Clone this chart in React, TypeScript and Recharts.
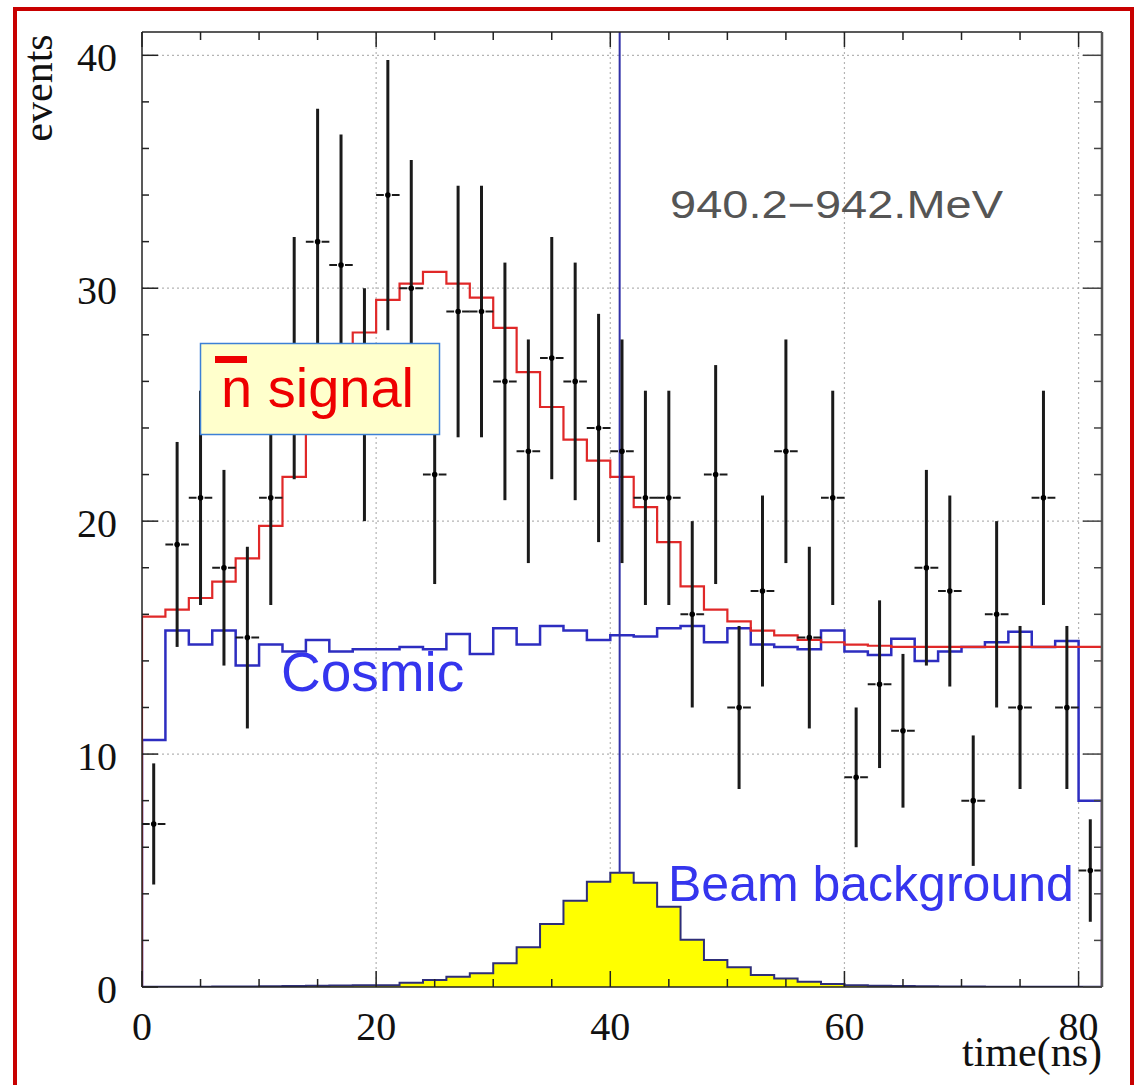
import React from 'react';
import {
  ComposedChart,
  Line,
  Area,
  Scatter,
  ErrorBar,
  XAxis,
  YAxis,
  CartesianGrid,
  ReferenceLine,
} from 'recharts';

// 2 ns bins from 0 to 82 ns
const binEdges = [
  0, 2, 4, 6, 8, 10, 12, 14, 16, 18, 20, 22, 24, 26, 28, 30, 32, 34, 36, 38, 40,
  42, 44, 46, 48, 50, 52, 54, 56, 58, 60, 62, 64, 66, 68, 70, 72, 74, 76, 78, 80,
];
const binCenters = [
  1, 3, 5, 7, 9, 11, 13, 15, 17, 19, 21, 23, 25, 27, 29, 31, 33, 35, 37, 39, 41,
  43, 45, 47, 49, 51, 53, 55, 57, 59, 61, 63, 65, 67, 69, 71, 73, 75, 77, 79, 81,
];

// measured events per bin and their errors
const measured = [
  7, 19, 21, 18, 15, 21, 27, 32, 31, 25, 34, 30, 22, 29, 29, 26, 23, 27, 26, 24, 23,
  21, 21, 16, 22, 12, 17, 23, 15, 21, 9, 13, 11, 18, 17, 8, 16, 12, 21, 12, 5,
];
const measuredErr = [
  2.6, 4.4, 4.6, 4.2, 3.9, 4.6, 5.2, 5.7, 5.6, 5.0, 5.8, 5.5, 4.7, 5.4, 5.4, 5.1, 4.8,
  5.2, 5.1, 4.9, 4.8, 4.6, 4.6, 4.0, 4.7, 3.5, 4.1, 4.8, 3.9, 4.6, 3.0, 3.6, 3.3, 4.2,
  4.1, 2.8, 4.0, 3.5, 4.6, 3.5, 2.2,
];

// fitted histograms
const totalFit = [
  15.9, 16.2, 16.7, 17.4, 18.4, 19.8, 21.9, 24.3, 26.4, 28.1, 29.5, 30.2, 30.7, 30.2,
  29.6, 28.3, 26.4, 24.9, 23.5, 22.6, 21.9, 20.6, 19.1, 17.2, 16.2, 15.7, 15.3, 15.1,
  14.9, 14.8, 14.7, 14.65, 14.6, 14.6, 14.6, 14.6, 14.6, 14.6, 14.6, 14.6, 14.6,
];
const cosmicFit = [
  10.6, 15.3, 14.7, 15.3, 13.8, 14.7, 14.4, 14.9, 14.4, 14.5, 14.5, 14.6, 14.5, 15.15,
  14.3, 15.4, 14.7, 15.5, 15.3, 14.9, 15.1, 15.05, 15.4, 15.5, 14.8, 15.4, 14.7, 14.6,
  14.5, 15.3, 14.4, 14.25, 14.95, 14.0, 14.4, 14.6, 14.8, 15.25, 14.6, 14.85, 8.0,
];
const beamFit = [
  0.01, 0.01, 0.01, 0.02, 0.02, 0.03, 0.04, 0.05, 0.06, 0.08, 0.08, 0.18, 0.3, 0.44,
  0.59, 1.02, 1.71, 2.7, 3.7, 4.52, 4.9, 4.48, 3.45, 2.03, 1.16, 0.85, 0.52, 0.37, 0.23,
  0.13, 0.08, 0.05, 0.04, 0.03, 0.02, 0.02, 0.01, 0.01, 0.01, 0.01, 0.01,
];

const xTicks = [0, 5, 10, 15, 20, 25, 30, 35, 40, 45, 50, 55, 60, 65, 70, 75, 80];
const xLabels = [0, 20, 40, 60, 80];
const yTicks = [0, 2, 4, 6, 8, 10, 12, 14, 16, 18, 20, 22, 24, 26, 28, 30, 32, 34, 36, 38, 40];
const yLabels = [0, 10, 20, 30, 40];
const xGrid = [20, 40, 60, 80];
const yGrid = [10, 20, 30, 40];

const X_MAX = 82;
const Y_MAX = 41;
const BIN_HALF = 1;
const beamMarkerX = 40.8;

const SERIF = '"Liberation Serif", "Times New Roman", serif';
const SANS = '"Liberation Sans", Arial, sans-serif';
const TICK = '#222';

const last = binEdges.length - 1;
const histRows = [
  { x: 0, total: 0, cosmic: 0, beam: 0 },
  ...binEdges.map((x, i) => ({ x, total: totalFit[i], cosmic: cosmicFit[i], beam: beamFit[i] })),
  { x: X_MAX, total: totalFit[last], cosmic: cosmicFit[last], beam: beamFit[last] },
  { x: X_MAX, total: 0, cosmic: 0, beam: 0 },
];

const points = binCenters.map((x, i) => ({
  x,
  y: measured[i],
  ey: measuredErr[i],
  ex: BIN_HALF,
}));

function BottomTick(props: any) {
  const { x, y, payload } = props;
  const major = xLabels.includes(payload.value);
  return (
    <g>
      <line x1={x} x2={x} y1={y} y2={y - (major ? 16 : 8)} stroke={TICK} strokeWidth={1.5} />
      {major && (
        <text x={x} y={y + 53} textAnchor="middle" fontFamily={SERIF} fontSize={40} fill="#111">
          {payload.value}
        </text>
      )}
    </g>
  );
}

function TopTick(props: any) {
  const { x, y, payload } = props;
  const major = xLabels.includes(payload.value);
  return <line x1={x} x2={x} y1={y} y2={y + (major ? 15 : 8)} stroke={TICK} strokeWidth={1.5} />;
}

function LeftTick(props: any) {
  const { x, y, payload } = props;
  const major = yLabels.includes(payload.value);
  return (
    <g>
      <line x1={x} x2={x + (major ? 16 : 7)} y1={y} y2={y} stroke={TICK} strokeWidth={1.5} />
      {major && (
        <text x={x - 25} y={y + 15.5} textAnchor="end" fontFamily={SERIF} fontSize={40} fill="#111">
          {payload.value}
        </text>
      )}
    </g>
  );
}

function RightTick(props: any) {
  const { x, y, payload } = props;
  const major = yLabels.includes(payload.value);
  return <line x1={x} x2={x - (major ? 19 : 8)} y1={y} y2={y} stroke="#444" strokeWidth={1.5} />;
}

const Dot = (p: any) => <circle cx={p.cx} cy={p.cy} r={2.8} fill="#000" />;

export default function App() {
  return (
    <div style={{ position: 'absolute', left: 0, top: 0, width: 1137, height: 1085, background: '#fff', overflow: 'hidden' }}>
      <ComposedChart
        width={1137}
        height={1085}
        data={histRows}
        margin={{ top: 31, right: 34, bottom: 0, left: 0 }}
      >
        <CartesianGrid
          horizontalValues={yGrid}
          verticalValues={xGrid}
          stroke="#b4b4b4"
          strokeDasharray="2 3"
          strokeWidth={1.2}
        />
        <XAxis
          dataKey="x"
          type="number"
          domain={[0, X_MAX]}
          allowDataOverflow
          ticks={xTicks}
          interval={0}
          tickSize={0}
          tickMargin={0}
          tickLine={false}
          tick={(p: any) => <BottomTick {...p} />}
          height={98}
          axisLine={{ stroke: TICK, strokeWidth: 1.5 }}
        />
        <XAxis
          xAxisId="top"
          orientation="top"
          dataKey="x"
          type="number"
          domain={[0, X_MAX]}
          allowDataOverflow
          ticks={xTicks}
          interval={0}
          tickSize={0}
          tickMargin={0}
          tickLine={false}
          tick={(p: any) => <TopTick {...p} />}
          height={1}
          axisLine={{ stroke: TICK, strokeWidth: 1.5 }}
        />
        <YAxis
          type="number"
          domain={[0, Y_MAX]}
          allowDataOverflow
          ticks={yTicks}
          interval={0}
          tickSize={0}
          tickMargin={0}
          tickLine={false}
          tick={(p: any) => <LeftTick {...p} />}
          width={142}
          axisLine={{ stroke: TICK, strokeWidth: 1.5 }}
        />
        <YAxis
          yAxisId="right"
          orientation="right"
          type="number"
          domain={[0, Y_MAX]}
          allowDataOverflow
          ticks={yTicks}
          interval={0}
          tickSize={0}
          tickMargin={0}
          tickLine={false}
          tick={(p: any) => <RightTick {...p} />}
          width={1}
          axisLine={{ stroke: '#555', strokeWidth: 2.5 }}
        />
        <Area
          type="stepAfter"
          dataKey="beam"
          fill="#ffff00"
          fillOpacity={1}
          stroke="#2e2e78"
          strokeWidth={2}
          dot={false}
          activeDot={false}
          isAnimationActive={false}
        />
        <Line
          type="stepAfter"
          dataKey="cosmic"
          stroke="#2d2dc0"
          strokeWidth={2.5}
          dot={false}
          activeDot={false}
          isAnimationActive={false}
        />
        <Line
          type="stepAfter"
          dataKey="total"
          stroke="#e02828"
          strokeWidth={2.2}
          dot={false}
          activeDot={false}
          isAnimationActive={false}
        />
        <ReferenceLine
          segment={[
            { x: beamMarkerX, y: beamFit[20] },
            { x: beamMarkerX, y: Y_MAX },
          ]}
          stroke="#3030a8"
          strokeWidth={2}
        />
        <Scatter data={points} dataKey="y" shape={Dot} isAnimationActive={false}>
          <ErrorBar dataKey="ey" direction="y" width={0} stroke="#1a1a1a" strokeWidth={3} isAnimationActive={false} />
          <ErrorBar
            dataKey="ex"
            direction="x"
            width={0}
            stroke="#1a1a1a"
            strokeWidth={2}
            strokeDasharray="7.7 8"
            isAnimationActive={false}
          />
        </Scatter>
      </ComposedChart>

      <svg
        width={1137}
        height={1085}
        style={{ position: 'absolute', left: 0, top: 0, pointerEvents: 'none' }}
      >
        <rect x={15} y={9} width={1117} height={1100} fill="none" stroke="#c80000" strokeWidth={4} />

        <text
          transform="translate(52,88) rotate(-90)"
          textAnchor="middle"
          fontFamily={SERIF}
          fontSize={42}
          fill="#111"
        >
          events
        </text>
        <text x={1102} y={1066} textAnchor="end" fontFamily={SERIF} fontSize={42} fill="#111">
          time(ns)
        </text>

        <text
          x={670}
          y={218}
          fontFamily={SANS}
          fontSize={39}
          fill="#555"
          textLength={333}
          lengthAdjust="spacingAndGlyphs"
        >
          940.2−942.MeV
        </text>

        <rect x={200.5} y={343.5} width={239} height={91} fill="#ffffcc" stroke="#3c80d6" strokeWidth={1.5} />
        <rect x={215} y={356} width={32} height={7} fill="#ee0000" />
        <text x={221} y={407} fontFamily={SANS} fontSize={56} fill="#ee0000">
          n signal
        </text>

        <text x={281} y={691} fontFamily={SANS} fontSize={55} fill="#3535ee">
          Cosmic
        </text>
        <text x={668} y={901} fontFamily={SANS} fontSize={50} fill="#3535ee">
          Beam background
        </text>
      </svg>
    </div>
  );
}
